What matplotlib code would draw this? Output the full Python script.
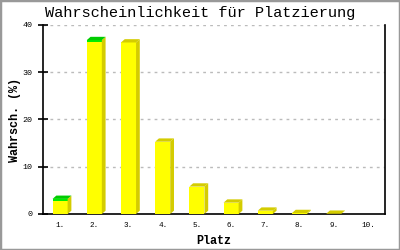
import matplotlib
matplotlib.use("Agg")
import matplotlib.pyplot as plt
from matplotlib.patches import Rectangle, Polygon

places = ["1.", "2.", "3.", "4.", "5.", "6.", "7.", "8.", "9.", "10."]
base_vals = [2.7, 36.5, 36.3, 15.3, 5.8, 2.4, 0.7, 0.2, 0.05, 0.0]
extra_vals = [0.5, 0.3, 0.0, 0.0, 0.0, 0.0, 0.0, 0.0, 0.0, 0.0]
yticks = [0, 10, 20, 30, 40]

title = "Wahrscheinlichkeit für Platzierung"
xlabel = "Platz"
ylabel = "Wahrsch. (%)"

mono = ["Liberation Mono", "DejaVu Sans Mono"]

fig = plt.figure(figsize=(4, 2.5), dpi=100)
fig.patch.set_facecolor("white")
ax = fig.add_axes([0.1075, 0.144, 0.855, 0.756])

yellow = "#ffff00"
yside = "#d4cc00"
gfront = "#00ee00"
gtop = "#00cc00"

w = 0.44
dx = 0.11
dy = 0.7
xs = list(range(len(places)))

ax.bar(xs, base_vals, width=w, color=yellow, zorder=3, linewidth=0)
ax.bar(xs, extra_vals, width=w, bottom=base_vals, color=gfront, zorder=3, linewidth=0)
for x, b, e in zip(xs, base_vals, extra_vals):
    h = b + e
    if h <= 0:
        continue
    r = x + w / 2
    l = x - w / 2
    ax.add_patch(Polygon([(r, 0), (r + dx, dy), (r + dx, h + dy), (r, h)],
                         closed=True, facecolor=yside, edgecolor="none", zorder=3))
    ax.add_patch(Polygon([(l, h), (l + dx, h + dy), (r + dx, h + dy), (r, h)],
                         closed=True, facecolor=(gtop if e > 0 else yside),
                         edgecolor="none", zorder=3))

ax.set_xlim(-0.5, len(places) - 0.5)
ax.set_ylim(0, 40)
ax.set_yticks(yticks)
ax.set_yticklabels([str(t) for t in yticks], family=mono, fontsize=6)
ax.set_xticks(xs)
ax.set_xticklabels(places, family=mono, fontsize=5.5)
ax.tick_params(axis="x", length=0, pad=6)
ax.tick_params(axis="y", direction="inout", length=7, width=1.2, pad=4)

for yv in yticks[1:]:
    ax.axhline(yv, color="#bbbbbb", lw=1, ls=(0, (2, 3)), zorder=1)

ax.spines["top"].set_visible(False)
for s in ["left", "right", "bottom"]:
    ax.spines[s].set_linewidth(1.2)
    ax.spines[s].set_color("black")

ax.set_xlabel(xlabel, family=mono, fontsize=8.5, fontweight="bold", labelpad=4)
ax.set_ylabel(ylabel, family=mono, fontsize=8.5, fontweight="bold", labelpad=1)
fig.text(0.5, 0.948, title, ha="center", va="center", family=mono, fontsize=11)

fig.patches.append(Rectangle((0, 0), 1, 1, transform=fig.transFigure,
                             fill=False, edgecolor="#999999", linewidth=2.5))

fig.savefig("out.png", dpi=100)
